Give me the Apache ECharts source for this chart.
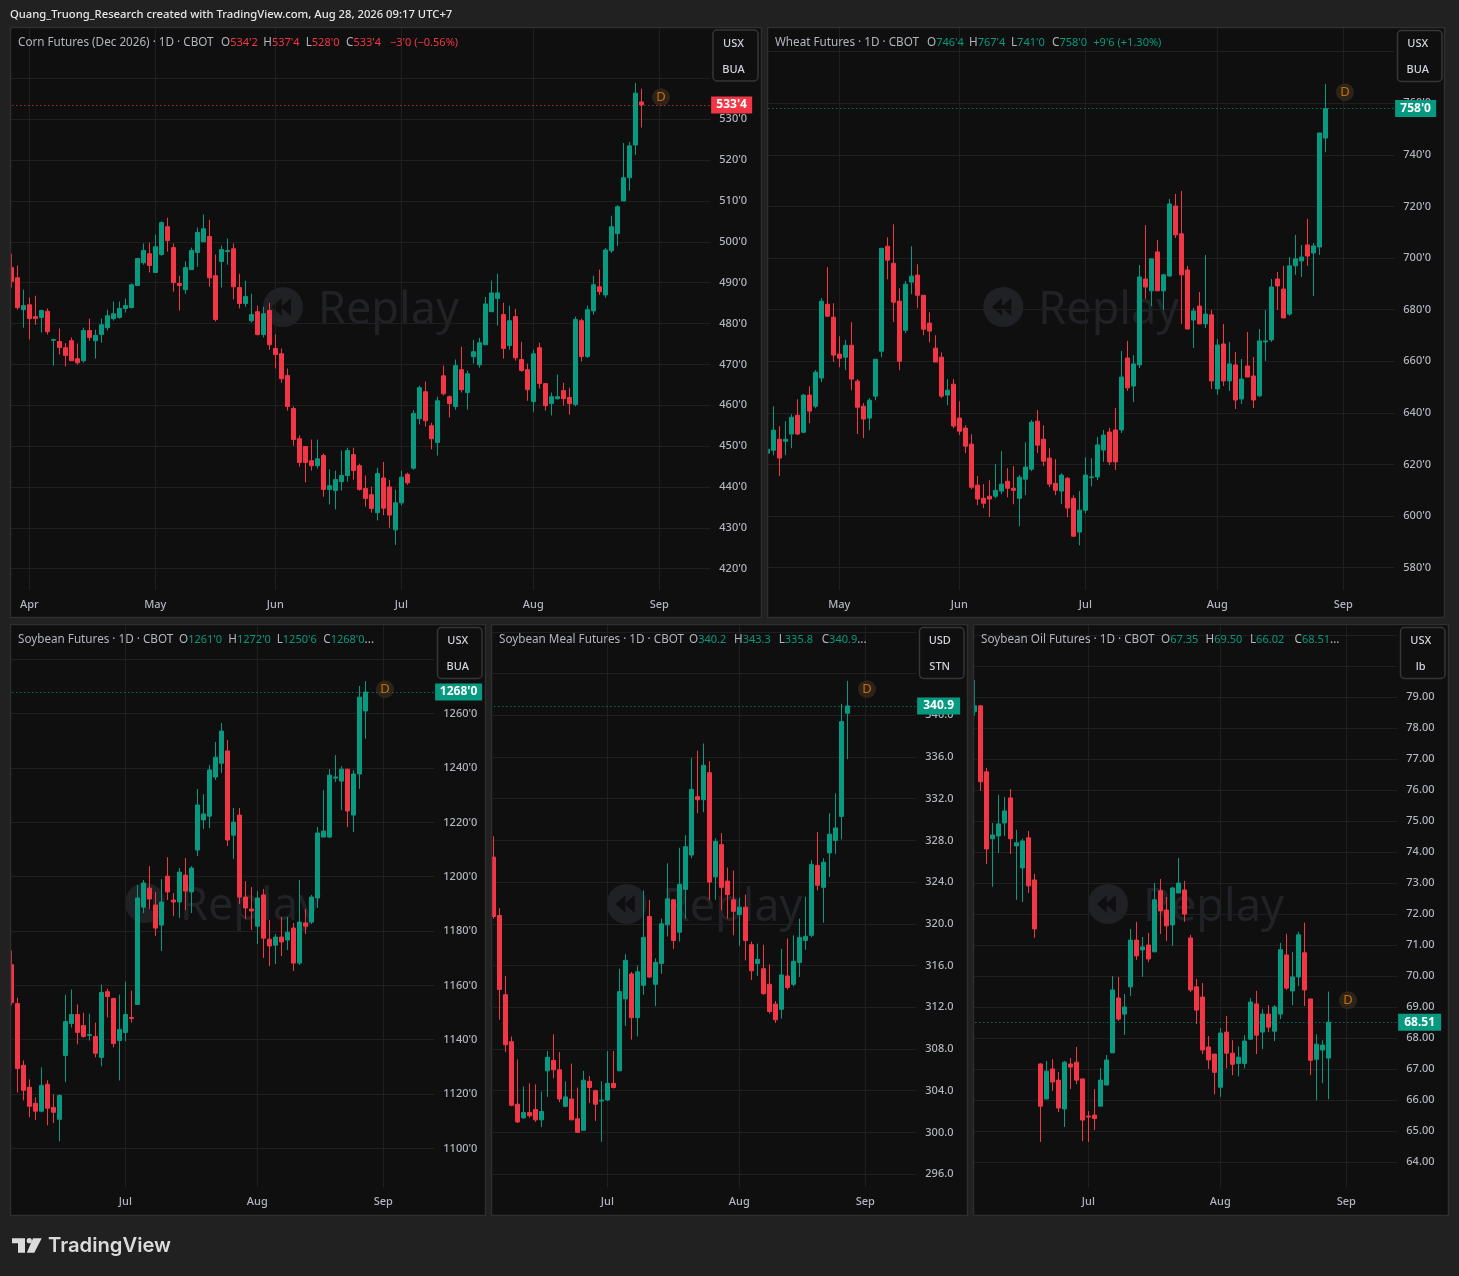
<!DOCTYPE html>
<html><head><meta charset="utf-8">
<style>html,body{margin:0;padding:0;background:#212121}#c{width:1459px;height:1276px}</style>
<script src="https://cdn.jsdelivr.net/npm/echarts@6/dist/echarts.min.js"></script>
</head><body><div id="c"></div>
<script>
// candles: [open, close, low, high]
const cornCandles=[[493.7,490.3,488.8,497.1],[491.2,483.9,483.4,494.2],[483.4,484.4,479,488.3],[484.6,481.2,476.1,486.4],[481.7,481.2,479.7,486.8],[481.5,483.2,477.8,483.4],[483,478,477.3,483.7],[475.9,476.1,469.7,476.3],[475.6,474.1,472.4,478.8],[474.1,472.2,469.5,475.2],[475.8,470.9,470.9,476.6],[471.4,470.4,469.9,475.1],[470.9,478.3,470.4,479],[478.3,476.6,475.8,481.2],[475.8,477.1,471.4,478.5],[477.3,479.7,475.3,481.2],[479,481.9,478.3,483.4],[481.2,482.4,480.7,485.4],[481.5,483.7,481.2,485.4],[483.7,484.4,482.7,486.1],[483.9,489.5,483.7,489.8],[489.3,495.9,489.3,496.1],[494.9,497.9,494.4,499.6],[497.1,494.2,492.5,499.8],[492.5,498.8,492.5,501.8],[496.9,504.7,496.6,505],[503.7,500.3,497.6,505.9],[498.6,490,487.8,499.6],[489.8,489.3,483.2,491.7],[488.3,493.7,487.3,495.2],[493.2,497.9,493.2,498.6],[497.4,502.3,493.9,503.5],[500,503.2,500,506.7],[501.3,491.2,489,505.4],[491.7,481,480.5,496.9],[495.2,498.1,488.8,499.1],[497.6,497.9,494.4,500.8],[498.3,489,485.9,499.6],[488.8,484.9,483.7,492.2],[484.9,486.6,484.1,490.5],[480.7,482.2,480.2,487.3],[482.9,477.3,477.1,484.4],[477.3,482.4,476.6,484.1],[483.2,474.8,473.6,485.1],[473.9,472.4,469,477.3],[472.6,466.5,465.5,473.9],[467.3,459.7,458.7,469],[459.2,451.6,450.1,459.7],[451.8,446,445,452.6],[449.9,446,441.1,449.9],[446.4,445.2,444,451.6],[445.2,446.9,444.5,451.6],[447.7,439.4,437.6,448.2],[439.4,440.3,435.7,444.3],[439.1,441.8,434.5,444],[441.3,442.8,439.1,448.9],[442.8,448.9,441.3,449.6],[447.9,444,441.8,449.6],[445.2,439.4,439.1,445.7],[439.6,437.2,435.2,442.8],[438.1,434.7,433.7,440.1],[433.7,443.3,431.8,444.7],[442.2,434.8,433.1,446.1],[440,433.1,430,441.7],[429.5,436.1,425.8,439.3],[436.1,442.4,435.5,444],[443.1,441,440.5,443.5],[444.6,458,444.2,458.8],[456.7,464.3,455.3,464.8],[463.3,456.2,454.8,465.8],[455,451.8,449.2,455.7],[450.9,461.1,447.7,462.1],[467.2,462.8,462.4,469.7],[462.1,460.4,457,462.4],[459.7,469.7,458.9,471.2],[468.7,463.8,463.1,474.3],[463.1,467.7,458.9,468.5],[471.9,473.1,470.2,476],[469.9,475.3,469.2,476.5],[474.8,484.8,474.8,486.5],[482.9,487.5,482.9,490.5],[486.1,487.5,479.5,492.2],[482.2,473.9,471.4,485.1],[474.6,480.7,473.6,484.4],[481.7,471.6,470.9,483.6],[471.2,468.5,468.2,475.5],[468.7,463.8,461.1,470.2],[460.9,472.6,458.4,473.6],[474.1,465.3,464.1,475.3],[465.3,459.9,458.7,465.3],[460.4,462.1,457.5,463.1],[461.6,462.1,461.4,467.5],[463.6,461.6,459.9,465.5],[461.9,460.4,457.7,464.3],[460.2,481,459.7,481.7],[480.7,471.9,470.7,481.2],[471.9,483.4,471.6,484.4],[483.1,489.5,482.2,491.7],[489,487.8,487,493.2],[487,498,486.3,498.5],[497.8,503.7,497.3,506.4],[502,508.6,499,509],[510,515.7,510,524.2],[515.7,523.5,512.5,524.5],[523.7,536.4,521.3,538.9],[534.25,533.5,528,537.5]];
const wheatCandles=[[624.4,625.9,618.2,629.8],[625.5,633.3,623.6,642.6],[629.8,622.5,615.5,634.9],[629,629.8,623.6,636.8],[631.8,638.3,626.3,639.5],[639.1,631.8,631.4,645.3],[632.5,646.9,632.1,647.3],[646.9,640.7,636,650.3],[642.6,655.8,641.8,656.6],[653.5,683.3,651.9,684.5],[682.1,677.5,677.1,696.5],[677.1,662.4,659.7,682.5],[662.8,661.2,657.7,669.7],[661.6,666.2,656.6,668.2],[666.2,653.1,648.8,675.2],[652.3,642.2,631.8,653.1],[642.6,637.6,630.2,643.8],[638,644.9,633.3,645.7],[646.5,660.8,644.9,660.8],[663.9,703.8,661.6,703.8],[704.6,699.2,691.8,708.1],[698,682.9,675.2,713.1],[683.3,660,656.6,688.3],[672,689.9,670.9,691.1],[690.7,693,686,704.6],[693.4,685.6,680.6,697.6],[685.6,672.4,670.1,685.6],[674.8,671.7,667.4,679],[665.1,659.7,659.7,670.1],[661.6,646.5,645.7,663.5],[646.9,648.8,643,653.1],[651.1,634.9,634.1,653.1],[638,632.9,631.4,644.5],[634.1,627.1,624.4,635.2],[627.9,611.2,610.4,631.7],[612,606.6,604.2,615.5],[606.9,605,603.1,612.4],[607.7,606.6,599.6,613.9],[607.7,610,606.9,620.1],[609.7,612.4,608.5,625.2],[613.5,610.8,607.3,618.6],[610.8,610,604.6,619.4],[606.9,615.1,596.1,615.9],[614.3,619,608.1,628.6],[618.2,636.4,617.4,637.2],[636.8,627.5,624.4,641.1],[629.8,621.3,619.4,635.2],[622.5,612.4,611.2,626.3],[612.7,610,608.1,622.1],[609.7,615.9,604.6,616.6],[614.7,603.1,599.6,615.1],[606.9,592.2,592.2,608.1],[593.8,602.3,588.7,609.7],[602.3,615.9,601.1,622.8],[614.9,615.2,611.6,622.4],[615.2,627.6,614,630.7],[625.6,631.4,621,633.4],[632.6,621,619.8,634.2],[633.4,621,617.9,641.9],[633.4,653.9,632.2,664],[661.3,649.7,648.5,667.9],[650.4,659,644.2,662.4],[658.6,692.7,657.4,697.3],[691.9,688.8,684.2,712.8],[687.3,699.7,681.4,699.7],[702.4,687.3,687.3,707],[687.3,693.5,679.9,693.9],[693.1,721,692.7,722.9],[720.2,709,707.8,724.9],[709.4,693.5,674.5,726],[695.4,672.5,672.5,697],[676,679.5,665.2,680.7],[681.4,674.5,674.5,686.9],[674.5,678.3,672.9,701.2],[678,652.4,649.3,679.9],[649.3,666.3,647,668.7],[666.7,652.4,650.4,674.5],[652.4,659,648.5,667.5],[658.6,645,641.5,663.6],[645.4,653.1,643.5,660.9],[658.2,653.9,653.9,671.4],[654.3,645,641.9,661.7],[646.6,667.9,646.2,672.5],[667.5,667.9,660.1,679.9],[668.3,688.8,667.5,691.9],[691.9,689.2,679.9,694.6],[688,676.8,676.8,697],[678.3,697,677.6,700.4],[697,699.7,693.5,709],[698.9,700.4,692.7,705.1],[705.1,700.8,697,715.2],[702,704.7,685.3,705.9],[704.3,748.5,701.2,748.5],[746.5,758,741,767.5]];
const soybeanCandles=[[1167.6,1153.7,1152.6,1172.8],[1153.3,1129.4,1120.6,1155.5],[1130.6,1121.4,1117.7,1132.4],[1122.5,1115.5,1111.5,1125.4],[1116.6,1113.7,1110.4,1118.8],[1113.7,1123.2,1113.3,1129.8],[1123.6,1114.8,1108.5,1125.1],[1115.1,1113.3,1109.3,1119.9],[1110.7,1119.5,1102.6,1119.9],[1134.2,1146.7,1124.3,1156.6],[1146,1149.3,1144.5,1158.5],[1149.3,1142.7,1138.3,1153],[1145.2,1141.2,1140.8,1150],[1141.6,1141.9,1139.7,1149.6],[1141.2,1135,1133.5,1146.3],[1133.5,1157.4,1130.2,1160.3],[1157.7,1155.9,1148.2,1158.8],[1155.2,1138.6,1137.2,1155.5],[1139.7,1143.8,1125,1156.6],[1142.7,1149.3,1139.4,1161.4],[1148.2,1147.8,1146.3,1158.1],[1153,1192.2,1153,1197],[1188.8,1197.7,1186.6,1198.8],[1195.8,1191.8,1188.1,1203.9],[1189.6,1181.1,1178.2,1194.4],[1182.2,1190.7,1172.6,1199.1],[1200.2,1194.4,1191.4,1207.2],[1191.4,1190.7,1185.5,1194],[1190.7,1201.7,1184.8,1203.2],[1200.6,1194.7,1187.7,1206.9],[1194.4,1203.2,1186.6,1203.9],[1209.8,1226.4,1207.6,1232.3],[1220.9,1223.1,1217.6,1230.4],[1222.3,1239.3,1217.9,1241.1],[1236.7,1244,1235.6,1249.6],[1241.8,1253.6,1238.2,1256.6],[1246.3,1213.5,1211.3,1250.3],[1215.3,1220.1,1206.5,1225.3],[1222.7,1192.5,1190,1225.3],[1192.5,1188.5,1184.4,1198.4],[1188.1,1187.4,1180.4,1196.2],[1181.8,1192.2,1175.2,1194.7],[1193.3,1177.4,1170.1,1195.5],[1177,1174.5,1167.1,1184.1],[1174.8,1177.8,1167.8,1178.9],[1177.8,1176,1170.8,1185.2],[1176.7,1179.6,1173,1185.2],[1181.1,1168.2,1165.3,1183],[1168.2,1183.3,1167.5,1198.8],[1183,1181.8,1178.9,1188.1],[1183.3,1192.5,1182.6,1193.3],[1192.2,1216.1,1188.5,1218.3],[1214.6,1216.8,1214.6,1231.9],[1214.6,1237.4,1214.2,1239.6],[1236.3,1236.7,1234.8,1244.8],[1235.2,1239.6,1224.5,1240.7],[1239.6,1224.2,1218.3,1239.6],[1222.7,1237.8,1216.4,1239.3],[1237.8,1266.1,1232.3,1270.2],[1261,1268,1250.75,1272]];
const mealCandles=[[326.4,320.7,320.5,328.4],[320.8,313.7,310.8,321.5],[313.2,308.4,307.7,315],[308.7,302.6,302.5,309.2],[302.7,301,300.9,307],[301.4,301.9,301.3,304.4],[301.9,301.6,301.4,304.7],[302.2,301.2,301,304.6],[301.2,302,300.5,303.9],[305.9,307.2,303.4,307.8],[306.9,306,305.2,309.4],[306,303.2,302.9,307.7],[302.5,303.4,302.4,304.9],[303.2,301.2,301.2,306.6],[301.3,300,300,304.3],[300.2,305,300.2,305.9],[304.9,304.3,302.8,305.4],[304,302.7,301.1,304.1],[303,303.1,299.1,304.9],[303.1,304.7,303,307.8],[304.7,304.3,304.2,307.8],[305.9,313.5,305.9,315.7],[312.8,316.5,310.2,317.1],[315.2,311,308.9,315.4],[311,315.4,309.2,316],[314.1,318.7,313.2,323.2],[320.7,314.9,314.8,322.3],[314.2,316.3,312.1,316.7],[316.2,320,315.2,320.5],[319.9,322.4,318.8,325.8],[322.3,318.4,317.6,322.4],[319.2,323.8,318.3,327.3],[323.3,327.4,320.5,328.5],[326.6,332.9,326.3,335.9],[332.2,331.9,330.6,336.6],[331.9,335.2,330.7,337.3],[334.5,324,322.3,335.6],[324.5,327.9,322.3,328.2],[327.6,323.5,321.3,328.7],[324.1,322.8,320.5,325.4],[322.3,321.2,318.9,325.1],[320.9,321.6,317.9,322.5],[321.6,318.4,316.5,322.8],[318,315.5,314.6,318.3],[316.2,316.6,315,318.1],[315.7,313.3,313.2,318],[314.2,311.6,311.4,316.1],[312.3,310.8,310.5,312.6],[311.8,315.1,310.9,317.6],[315,313.9,313.7,318.6],[314.2,316.4,314,318.9],[316.3,318.7,314.9,320.5],[318.4,318.8,317.5,322.6],[318.9,325.7,318.7,326.1],[325.6,323.7,323.2,328.8],[323.5,325.9,320.1,326.3],[326.8,328.6,324.5,330.6],[328,329.2,326.7,332.5],[330.3,339.4,328.1,341.1],[340.2,340.9,335.8,343.3]];
const oilCandles=[[78.53,78.72,78.4,79.56],[78.72,76.27,75.98,78.75],[76.59,74.1,73.62,76.72],[74.43,74.55,72.88,74.94],[74.52,74.91,73.97,75.85],[74.94,75.33,74.52,75.78],[75.75,74.43,73.94,76.04],[74.2,74.3,72.46,74.72],[73.49,74.36,72.39,74.43],[74.46,72.91,72.68,74.68],[73.1,71.52,71.23,73.3],[67.16,65.8,64.64,67.19],[66.03,66.93,66.03,67.26],[67,66.58,66.29,67.32],[66.64,65.74,65.61,66.9],[65.71,67.22,65.13,67.26],[67.16,67.06,66.35,67.35],[67.22,66.64,66.51,67.71],[66.68,65.35,64.67,66.68],[65.48,65.45,64.64,65.64],[65.51,65.4,65.03,66.35],[65.8,66.64,65.8,67.03],[66.48,67.29,66.48,67.45],[67.52,69.55,67.52,70],[69.29,68.61,68.55,69.97],[68.77,69,68.1,69.42],[69.65,71.16,69.36,71.52],[71.16,70.65,70.52,71.75],[70.84,70.94,69.97,71.26],[71,70.55,70.45,71.39],[70.78,72.46,70.78,73],[72.75,72.1,71.36,73.13],[72.13,71.62,71.13,72.55],[71.65,72.84,70.97,72.88],[72.68,73,72.68,73.81],[72.78,72,71.75,73.07],[71.23,69.55,69.48,71.33],[69.65,68.9,68.45,69.91],[69.32,67.61,67.48,69.77],[67.71,67.29,67,68.06],[67.48,66.89,66.18,67.48],[66.41,68.16,66.1,68.32],[68.19,67.51,67.02,68.71],[67.51,67.15,66.8,67.93],[67.18,67.38,66.76,67.73],[67.18,67.9,67.02,68.09],[67.96,69.16,67.93,69.29],[69.1,68.09,67.48,69.52],[68.19,68.77,67.64,68.93],[68.77,68.35,68.19,69.06],[68.22,69,67.9,69.06],[68.77,70.85,68.61,71.07],[70.68,69.61,69.55,71.36],[69.52,69.97,69.06,70.78],[69.97,71.33,69.68,71.43],[70.75,69.55,69.03,71.72],[69.26,67.28,66.8,69.26],[67.31,67.8,65.98,68.12],[67.61,67.77,66.54,67.93],[67.35,68.51,66.02,69.5]];

const cornMonths={3:'Apr',24:'May',44:'Jun',65:'Jul',87:'Aug',108:'Sep'};
const wheatMonths={12:'May',32:'Jun',53:'Jul',75:'Aug',96:'Sep'};
const soyMonths={19:'Jul',41:'Aug',62:'Sep'};

const cornTicks=[420,430,440,450,460,470,480,490,500,510,520,530,540];
const cornLabels=[420,430,440,450,460,470,480,490,500,510,520,530];
const wheatTicks=[580,600,620,640,660,680,700,720,740,760,780];
const wheatLabels=[580,600,620,640,660,680,700,720,740,760];
const soybeanTicks=[1100,1120,1140,1160,1180,1200,1220,1240,1260,1280];
const soybeanLabels=[1100,1120,1140,1160,1180,1200,1220,1240,1260];
const mealTicks=[296,300,304,308,312,316,320,324,328,332,336,340,344,348];
const mealLabels=[296,300,304,308,312,316,320,324,328,332,336,340];
const oilTicks=[64,65,66,67,68,69,70,71,72,73,74,75,76,77,78,79,80,81];
const oilLabels=[64,65,66,67,68,69,70,71,72,73,74,75,76,77,78,79];

const UP='#089981',DOWN='#f23645',GRAY='#b2b5be',GRID='#1f1f1f',PAGE='#212121',PANEL='#0f0f0f',BORDER='#2e2e2e';
const FONT='"Noto Sans",sans-serif';
const eighth=v=>v+"'0", f1=v=>v.toFixed(1), f2=v=>v.toFixed(2);

const panels=[
 {candles:cornCandles,months:cornMonths,ticks:cornTicks,labels:cornLabels,fmt:eighth,slots:117,gridLeft:8.33,top:28,min:414.77,max:552.35,last:533.5,lastText:"533'4",lastColor:DOWN,tagW:41,dAt:[108,535.4],
  box:[10,27,752,591],title:'Corn Futures (Dec 2026) · 1D · CBOT',ohlc:["534'2","537'4","528'0","533'4"],extra:"−3'0 (−0.56%)",color:DOWN,hdrX:[221,263.3,305.7,346,390],unit:['USX','BUA'],btn:[713,30,45,51],mark:[283,307]},
 {candles:wheatCandles,months:wheatMonths,ticks:wheatTicks,labels:wheatLabels,fmt:eighth,slots:105,gridLeft:764.33,top:28,min:571.36,max:789.18,last:758,lastText:"758'0",lastColor:UP,tagW:41,dAt:[96,764.3],
  box:[767,27,678,591],title:'Wheat Futures · 1D · CBOT',ohlc:["746'4","767'4","741'0","758'0"],extra:"+9'6 (+1.30%)",color:UP,hdrX:[927,969,1011,1052,1093.3],unit:['USX','BUA'],btn:[1397.5,30.5,44.5,51],mark:[1003.3,307]},
 {candles:soybeanCandles,months:soyMonths,ticks:soybeanTicks,labels:soybeanLabels,fmt:eighth,slots:71,gridLeft:8.33,top:625,min:1085.8,max:1292.65,last:1268,lastText:"1268'0",lastColor:UP,tagW:47,dAt:[62,1269],
  box:[10,624,476,592],title:'Soybean Futures · 1D · CBOT',ohlc:["1261'0","1272'0","1250'6","1268'0"],extra:null,color:UP,hdrX:[179,228.3,276.7,323.3],unit:['USX','BUA'],btn:[437.5,627.5,44.5,51],mark:[145,903]},
 {candles:mealCandles,months:soyMonths,ticks:mealTicks,labels:mealLabels,fmt:f1,slots:71,gridLeft:490.33,top:625,min:294.76,max:348.66,last:340.9,lastText:'340.9',lastColor:UP,tagW:43,dAt:[62,342.5],
  box:[491,624,477,592],title:'Soybean Meal Futures · 1D · CBOT',ohlc:['340.2','343.3','335.8','340.9'],extra:null,color:UP,hdrX:[689,734,778.7,821.7],unit:['USD','STN'],btn:[919.5,627.5,44.5,51],mark:[626.7,904]},
 {candles:oilCandles,months:soyMonths,ticks:oilTicks,labels:oilLabels,fmt:f2,slots:71,gridLeft:971.33,top:625,min:63.19,max:81.33,last:68.51,lastText:'68.51',lastColor:UP,tagW:43,dAt:[62,69.22],
  box:[973,624,476,592],title:'Soybean Oil Futures · 1D · CBOT',ohlc:['67.35','69.50','66.02','68.51'],extra:null,color:UP,hdrX:[1161,1205.5,1250,1294.5],unit:['USX','lb'],btn:[1400.5,627.5,44.5,51],mark:[1108,904]}
];

const grid=[],xAxis=[],yAxis=[],series=[],gfx=[];
const PLOT_H=562;

gfx.push({type:'text',z:70,style:{x:10,y:15,text:'Quang_Truong_Research created with TradingView.com, Aug 28, 2026 09:17 UTC+7',fill:'#e6e6e6',font:'500 11.25px '+FONT,textVerticalAlign:'middle'}});

panels.forEach((p,k)=>{
  const cats=Array.from({length:p.slots},(_,i)=>p.months[i]||'');
  const show=(i,v)=>v!=='';
  grid.push({left:p.gridLeft,top:p.top,width:6*p.slots,height:PLOT_H});
  xAxis.push({type:'category',gridIndex:k,data:cats,boundaryGap:true,axisLine:{show:false},axisTick:{show:false},
    axisLabel:{interval:show,color:GRAY,fontSize:11,fontWeight:500,fontFamily:FONT,margin:9},
    splitLine:{show:true,interval:show,alignWithLabel:true,lineStyle:{color:GRID,width:1}}});
  yAxis.push({type:'value',gridIndex:k,position:'right',min:p.min,max:p.max,axisLine:{show:false},
    axisTick:{show:false,customValues:p.ticks},
    axisLabel:{customValues:p.labels,formatter:p.fmt,color:GRAY,fontSize:11,fontWeight:500,fontFamily:FONT,margin:9},
    splitLine:{show:true,lineStyle:{color:GRID,width:1}}});
  series.push({type:'candlestick',xAxisIndex:k,yAxisIndex:k,data:p.candles,barWidth:4,animation:false,silent:true,
    itemStyle:{color:UP,color0:DOWN,borderColor:UP,borderColor0:DOWN,borderWidth:1},
    markLine:{silent:true,animation:false,symbol:['none','none'],precision:4,z:40,
      lineStyle:{type:[1,3],color:p.lastColor,width:1},
      label:{show:true,position:'end',distance:0,formatter:p.lastText,color:'#fff',fontWeight:700,fontSize:12,fontFamily:FONT,
        backgroundColor:p.lastColor,width:p.tagW,height:17,lineHeight:17,align:'center',verticalAlign:'middle',offset:[p.tagW/2+0.8,0]},
      data:[{yAxis:p.last}]}});
  series.push({type:'scatter',xAxisIndex:k,yAxisIndex:k,data:[p.dAt],symbol:'circle',symbolSize:18,symbolOffset:[1.67,0],silent:true,animation:false,z:6,
    itemStyle:{color:'#35291c'},label:{show:true,position:'inside',formatter:'D',color:'#f57c00',fontSize:13,fontFamily:FONT}});

  // chrome
  const [bx,by,bw,bh]=p.box;
  gfx.push({type:'rect',z:-10,shape:{x:bx,y:by,width:bw,height:bh},style:{fill:PANEL}});
  const [mx,my]=p.mark;
  gfx.push({type:'circle',z:-9,shape:{cx:mx,cy:my,r:20},style:{fill:'#202125'}});
  gfx.push({type:'polygon',z:-8,shape:{points:[[mx-11.3,my],[mx-1.3,my-8.7],[mx-1.3,my+8.7]]},style:{fill:PANEL}});
  gfx.push({type:'polygon',z:-8,shape:{points:[[mx-2.3,my],[mx+8,my-8.7],[mx+8,my+8.7]]},style:{fill:PANEL}});
  gfx.push({type:'text',z:-9,style:{x:mx+35,y:my+4,text:'Replay',fill:'#212226',font:'45px '+FONT,textVerticalAlign:'middle'}});
  // header
  const col=k===0?'down':'up';
  const rich={g:{fill:GRAY,font:'11.7px '+FONT},up:{fill:UP,font:'11px '+FONT},down:{fill:DOWN,font:'11px '+FONT}};
  const hy=by+15.5;
  gfx.push({type:'text',z:65,style:{x:bx+8,y:hy,text:p.title,fill:GRAY,font:'11.7px '+FONT,textVerticalAlign:'middle'}});
  ['O','H','L','C'].forEach((l,j)=>{
    const end=(j===3&&!p.extra)?'{g|...}':'';
    gfx.push({type:'text',z:65,style:{x:p.hdrX[j],y:hy,text:'{g|'+l+'}{'+col+'|'+p.ohlc[j]+'}'+end,textVerticalAlign:'middle',rich}});
  });
  if(p.extra) gfx.push({type:'text',z:65,style:{x:p.hdrX[4],y:hy,text:p.extra,fill:p.color,font:'11px '+FONT,textVerticalAlign:'middle'}});
  // unit button
  const [ux,uy,uw,uh]=p.btn;
  gfx.push({type:'rect',z:66,shape:{x:ux,y:uy,width:uw,height:uh,r:4},style:{fill:PANEL,stroke:'#363636',lineWidth:1.5}});
  p.unit.forEach((u,j)=>gfx.push({type:'text',z:67,style:{x:ux+uw/2-2,y:uy+13.5+26*j,text:u,fill:'#d1d4dc',font:'500 11px '+FONT,textAlign:'center',textVerticalAlign:'middle'}}));
});

// gaps and frames on top so the first partly clipped candle ends at the panel edge
[[0,0,10,1276],[762,0,5,622],[486,622,5,600],[968,622,5,600],[0,618,1459,6]].forEach(r=>gfx.push({type:'rect',z:50,shape:{x:r[0],y:r[1],width:r[2],height:r[3]},style:{fill:PAGE}}));
panels.forEach(p=>{const [x,y,w,h]=p.box;gfx.push({type:'rect',z:51,shape:{x:x+.5,y:y+.5,width:w-1,height:h-1},style:{fill:null,stroke:BORDER,lineWidth:1.5}});});

// logo
gfx.push({type:'polygon',z:70,shape:{points:[[12,1238.3],[25,1238.3],[25,1252.7],[18,1252.7],[18,1243.3],[12,1243.3]]},style:{fill:'#dbdbdb'}});
gfx.push({type:'circle',z:70,shape:{cx:29.3,cy:1240.7,r:2.6},style:{fill:'#dbdbdb'}});
gfx.push({type:'polygon',z:70,shape:{points:[[33,1238.3],[41.7,1238.3],[34.3,1252.7],[26.8,1252.7]]},style:{fill:'#dbdbdb'}});
gfx.push({type:'text',z:70,style:{x:48,y:1246,text:'TradingView',fill:'#dbdbdb',font:'600 20.2px Inter,'+FONT,textVerticalAlign:'middle'}});

const chart=echarts.init(document.getElementById('c'),null,{renderer:'canvas',width:1459,height:1276});
chart.setOption({backgroundColor:PAGE,animation:false,grid,xAxis,yAxis,series,graphic:{elements:gfx}});
</script></body></html>
